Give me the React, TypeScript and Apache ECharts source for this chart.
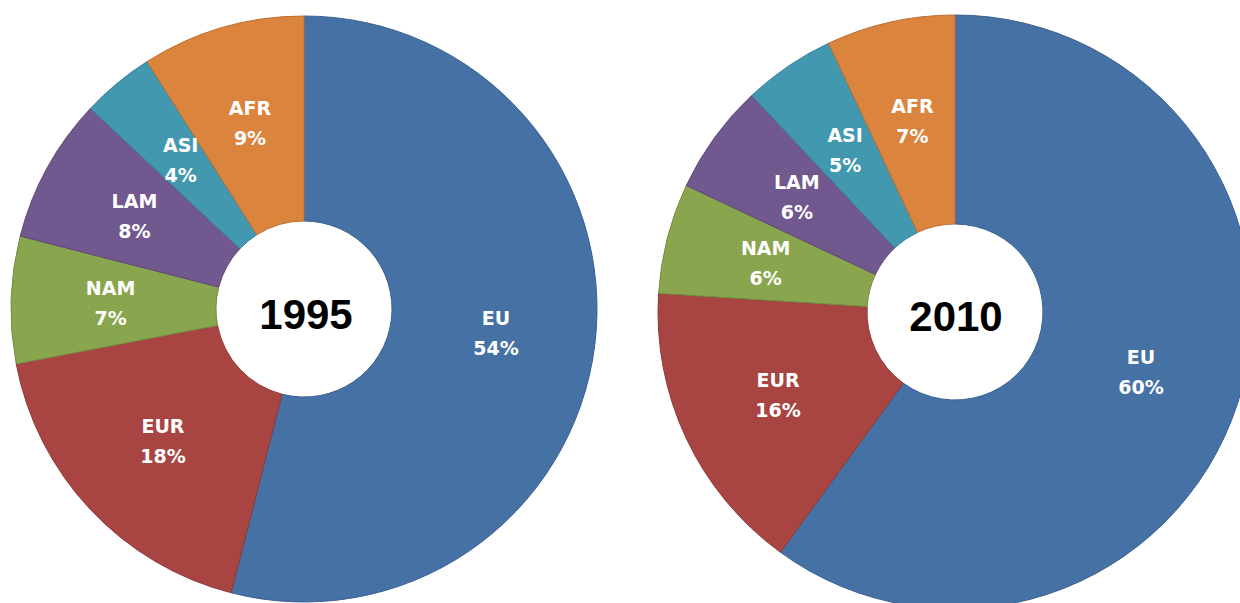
import React, { useEffect, useRef } from "react";
import * as echarts from "echarts";

const categories = ["EU", "EUR", "NAM", "LAM", "ASI", "AFR"];
const values1995 = [54, 18, 7, 8, 4, 9];
const values2010 = [60, 16, 6, 6, 5, 7];
const years = ["1995", "2010"];
const colors = ["#4571A4", "#A84543", "#89A54E", "#71588F", "#4198AF", "#DB843D"];
const borderColors = ["#3A6190", "#8F3A38", "#758D42", "#5F4A79", "#378196", "#BB7034"];

function buildData(values: number[]) {
  return categories.map((name, i) => ({
    name,
    value: values[i],
    itemStyle: { color: colors[i], borderColor: borderColors[i], borderWidth: 1 },
  }));
}

export default function App() {
  const ref = useRef<HTMLDivElement>(null);
  useEffect(() => {
    if (!ref.current) return;
    const chart = echarts.init(ref.current, null, { renderer: "svg" });
    const label = {
      show: true,
      position: "inside",
      formatter: "{b}\n{c}%",
      color: "#ffffff",
      fontFamily: "DejaVu Sans, sans-serif",
      fontWeight: "bold",
      fontSize: 19,
      lineHeight: 30,
    };
    chart.setOption({
      animation: false,
      backgroundColor: "#ffffff",
      series: [
        {
          type: "pie",
          center: [304, 309],
          radius: [88, 293],
          startAngle: 90,
          clockwise: true,
          avoidLabelOverlap: false,
          minShowLabelAngle: 0,
          label,
          labelLine: { show: false },
          emphasis: { disabled: true },
          data: buildData(values1995),
        },
        {
          type: "pie",
          center: [955, 312],
          radius: [88, 297],
          startAngle: 90,
          clockwise: true,
          avoidLabelOverlap: false,
          minShowLabelAngle: 0,
          label,
          labelLine: { show: false },
          emphasis: { disabled: true },
          data: buildData(values2010),
        },
      ],
      graphic: [
        {
          type: "text",
          x: 306,
          y: 314,
          style: {
            text: years[0],
            fill: "#000000",
            font: "bold 42px 'Liberation Sans', Arial, sans-serif",
            textAlign: "center",
            textVerticalAlign: "middle",
          },
        },
        {
          type: "text",
          x: 956,
          y: 316,
          style: {
            text: years[1],
            fill: "#000000",
            font: "bold 42px 'Liberation Sans', Arial, sans-serif",
            textAlign: "center",
            textVerticalAlign: "middle",
          },
        },
      ],
    });
    return () => chart.dispose();
  }, []);
  return (
    <div
      ref={ref}
      style={{ position: "fixed", left: 0, top: 0, width: 1240, height: 603 }}
    />
  );
}
